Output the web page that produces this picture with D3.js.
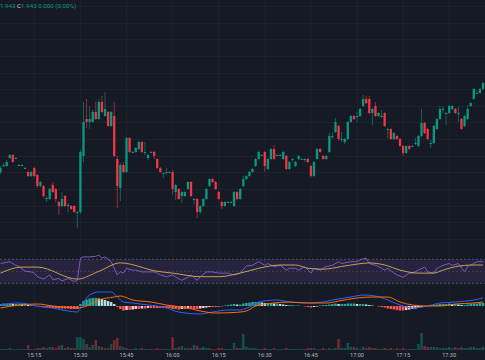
<!DOCTYPE html>
<html><head><meta charset="utf-8">
<script src="https://cdn.jsdelivr.net/npm/d3@7"></script>
<style>
html,body{margin:0;padding:0;background:#161a25;overflow:hidden}
svg{display:block}
</style></head><body>
<svg id="c" width="485" height="360"></svg>
<script>
// ---------- DATA ----------
const firstBar = "15:04";           // 1-minute candles
const viewStart = "15:03:50", viewEnd = "17:41:39";
const opens = [
1.854,1.861,1.860,1.868,1.871,1.868,1.861,1.861,1.858,1.854,
1.850,1.858,1.851,1.840,1.840,1.828,1.827,1.841,1.837,1.824,
1.820,1.830,1.820,1.820,1.820,1.814,1.814,1.870,1.907,1.904,
1.904,1.914,1.907,1.924,1.910,1.914,1.900,1.910,1.867,1.838,
1.861,1.854,1.888,1.874,1.874,1.877,1.884,1.874,1.868,1.874,
1.874,1.867,1.858,1.853,1.854,1.854,1.854,1.834,1.837,1.830,
1.830,1.837,1.844,1.827,1.827,1.814,1.820,1.827,1.840,1.847,
1.844,1.834,1.824,1.820,1.824,1.824,1.820,1.834,1.827,1.840,
1.847,1.850,1.854,1.860,1.867,1.871,1.874,1.857,1.867,1.877,
1.871,1.871,1.867,1.870,1.857,1.867,1.860,1.867,1.867,1.867,
1.867,1.860,1.850,1.867,1.877,1.870,1.867,1.874,1.890,1.894,
1.900,1.887,1.884,1.887,1.904,1.910,1.910,1.910,1.920,1.927,
1.927,1.913,1.920,1.910,1.910,1.913,1.897,1.897,1.887,1.890,
1.887,1.880,1.873,1.880,1.880,1.883,1.880,1.890,1.903,1.897,
1.883,1.883,1.897,1.907,1.917,1.913,1.913,1.917,1.917,1.913,
1.907,1.900,1.907,1.920,1.927,1.933,1.933,1.937];
const highs = [
1.860,1.863,1.866,1.872,1.872,1.869,1.862,1.862,1.859,1.855,
1.855,1.859,1.852,1.845,1.841,1.830,1.838,1.844,1.838,1.825,
1.834,1.831,1.823,1.821,1.821,1.815,1.876,1.924,1.927,1.920,
1.916,1.924,1.927,1.930,1.934,1.915,1.915,1.924,1.870,1.863,
1.864,1.889,1.889,1.875,1.879,1.885,1.885,1.884,1.872,1.875,
1.875,1.868,1.859,1.854,1.858,1.855,1.856,1.842,1.838,1.835,
1.835,1.845,1.845,1.828,1.828,1.821,1.828,1.838,1.848,1.848,
1.845,1.835,1.825,1.825,1.825,1.825,1.835,1.835,1.838,1.850,
1.851,1.855,1.858,1.868,1.875,1.872,1.875,1.868,1.878,1.881,
1.872,1.872,1.875,1.871,1.865,1.868,1.865,1.871,1.868,1.868,
1.868,1.861,1.865,1.878,1.878,1.871,1.871,1.893,1.894,1.908,
1.901,1.894,1.888,1.905,1.911,1.911,1.914,1.918,1.931,1.930,
1.930,1.918,1.924,1.914,1.916,1.914,1.898,1.898,1.894,1.891,
1.888,1.881,1.881,1.881,1.881,1.888,1.891,1.917,1.904,1.898,
1.886,1.901,1.908,1.920,1.920,1.914,1.921,1.921,1.918,1.919,
1.908,1.911,1.921,1.924,1.938,1.936,1.938,1.944];
const lows = [
1.852,1.859,1.859,1.867,1.863,1.867,1.860,1.860,1.857,1.849,
1.849,1.849,1.838,1.839,1.828,1.824,1.826,1.833,1.824,1.811,
1.819,1.819,1.814,1.816,1.813,1.798,1.812,1.864,1.898,1.897,
1.903,1.906,1.906,1.913,1.909,1.899,1.899,1.869,1.818,1.825,
1.853,1.853,1.873,1.873,1.873,1.876,1.873,1.871,1.866,1.873,
1.867,1.857,1.853,1.848,1.851,1.853,1.831,1.826,1.826,1.823,
1.829,1.836,1.829,1.821,1.808,1.812,1.819,1.826,1.839,1.843,
1.836,1.826,1.817,1.819,1.823,1.823,1.819,1.826,1.826,1.839,
1.846,1.849,1.853,1.859,1.866,1.870,1.854,1.856,1.866,1.866,
1.870,1.870,1.866,1.856,1.856,1.864,1.859,1.866,1.866,1.864,
1.863,1.848,1.849,1.866,1.873,1.866,1.866,1.873,1.887,1.893,
1.885,1.884,1.882,1.886,1.903,1.906,1.904,1.909,1.919,1.922,
1.912,1.901,1.909,1.909,1.908,1.899,1.888,1.886,1.886,1.886,
1.879,1.870,1.872,1.876,1.879,1.881,1.879,1.889,1.892,1.886,
1.878,1.882,1.896,1.906,1.913,1.901,1.912,1.916,1.912,1.904,
1.896,1.899,1.906,1.919,1.926,1.932,1.932,1.936];
const closes = [
1.858,1.861,1.864,1.871,1.864,1.868,1.861,1.861,1.858,1.850,
1.854,1.850,1.840,1.844,1.830,1.828,1.837,1.834,1.827,1.820,
1.827,1.820,1.821,1.817,1.814,1.814,1.874,1.904,1.904,1.907,
1.914,1.907,1.924,1.914,1.917,1.900,1.914,1.870,1.840,1.861,
1.854,1.888,1.874,1.874,1.878,1.884,1.874,1.874,1.871,1.874,
1.870,1.858,1.854,1.853,1.854,1.854,1.837,1.841,1.827,1.834,
1.834,1.844,1.830,1.827,1.814,1.820,1.827,1.837,1.847,1.844,
1.837,1.827,1.820,1.824,1.824,1.824,1.834,1.827,1.837,1.847,
1.850,1.854,1.857,1.867,1.874,1.871,1.860,1.867,1.877,1.867,
1.871,1.871,1.874,1.857,1.864,1.867,1.864,1.870,1.867,1.867,
1.864,1.850,1.864,1.877,1.874,1.867,1.870,1.890,1.890,1.904,
1.887,1.887,1.887,1.904,1.910,1.907,1.910,1.917,1.927,1.923,
1.913,1.917,1.910,1.913,1.910,1.900,1.897,1.887,1.893,1.887,
1.880,1.873,1.880,1.877,1.880,1.883,1.890,1.903,1.893,1.887,
1.883,1.900,1.907,1.917,1.917,1.913,1.920,1.920,1.913,1.913,
1.897,1.910,1.917,1.923,1.937,1.933,1.937,1.943];
const volumes = [
1,1,1,2,1,1,1,1,1,5, 1,1,2,2,3,2,3,3,2,4, 5,2,3,2,2,13,13,11,6,3,
5,10,4,3,2,2,6,10,12,4, 3,2,1,1,2,1,2,1,1,1, 1,2,1,1,1,1,13,2,3,4,
2,2,2,5,4,2,3,2,2,1, 1,2,2,1,1,1,7,2,2,16, 3,2,2,2,1,1,2,1,1,2,
1,1,1,2,1,1,1,1,1,1, 2,2,2,1,1,2,1,2,1,2, 11,2,2,7,3,3,2,1,3,2,
3,2,2,1,1,2,1,2,1,2, 1,2,1,1,1,1,6,17,4,3, 3,3,3,2,2,2,3,2,3,2,
3,2,2,3,3,2,2,3];
// MACD histogram (x1e-3)
const macdHist = [
2,2.5,2.5,2.5,2,2,2,1.5,1.5,1, 1,0.5,-0.5,-1,-1.5,-1.5,-1.5,-2,-2,-2.5,
-2.5,-2.5,-2.5,-3,-3,-3,2,5,6.5,7.5, 8,8,7.5,7,6,5,4,2,-1,-3,
-4.5,-4,-4,-3.5,-3,-3,-2.5,-2.5,-2,-2, -2,-2,-2,-2,-2,-2,-3,-3,-3.5,-3,
-3,-2.5,-2.5,-3,-3,-2.5,-2,-1.5,-1,-1, -1,-0.5,-0.5,0.5,1,1.5,2,1.5,1.5,2.5,
3,3.5,4,4,4,3.5,3,3,3,2.5, 2.5,2,1.5,1,1,0.5,0.5,0.5,0,-0.5,
-1,-1.5,-1,-0.5,0.5,1,1,1.5,2,2.5, 2,2,2,2.5,2.5,2.5,2,2,2,1.5,
1,0.5,0,-0.5,-1,-1.5,-2.5,-3,-3.5,-4, -4.5,-4.5,-4,-3.5,-3,-2.5,-2,-1,-0.5,0,
0.5,1,1.5,2,2,2,2.5,2,2,1.5, 1,1,1.5,2,2.5,2.5,3,3];
// MACD & signal line readings (bar index, value x1e-3)
const macdBar = [0,6,12,17,22,25,27,29,32,36,38,40,43,48,51,54,58,65,69,74,78,81,84,90,94,100,105,108,114,118,122,126,130,134,139,143,148,154,157];
const macdVal = [1,3,0,-2,-5,-6,4,11,14,14,9,4,3,1,0,-2,-6,-8,-6,-4,-4,-1,4,6,4,3,4,6,9,11,10,6,1,-2,0,3,4,6,8];
const signalBar = [0,6,12,17,25,28,32,37,39,43,49,54,61,65,70,76,80,83,89,94,100,106,110,116,121,126,130,134,139,143,148,154,157];
const signalVal = [-2,1,2,0,-2,0,6,9,10,6,4,1,-2,-5,-7,-6.5,-5,0,3,4,3,3,5,8,9,9,4,1,0,0,2,3,4];
// RSI readings (bar index, value)
const rsiBar = [0,3,5,6,8,10,11,12,14,16,17,19,20,22,24,25,26,27,29,31,32,33,34,36,37,38,39,40,41,43,44,46,48,50,51,52,54,56,57,59,61,62,64,65,67,69,71,74,76,78,80,82,84,86,87,89,90,91,93,94,96,97,99,101,102,104,106,108,110,111,114,116,117,119,120,122,123,125,126,128,129,131,133,134,136,138,139,141,142,144,146,147,149,151,152,154,155,157];
const rsiVal = [63,66,60,58,50,49,47,41,37,44,36,38,34,38,33,35,72,74,74,75,77,72,74,66,55,44,49,47,55,52,52,49,49,49,47,44,41,44,40,35,40,44,35,41,49,49,47,47,44,47,59,60,66,60,63,58,59,60,52,55,55,52,58,47,55,52,58,60,66,63,66,66,69,72,63,60,58,52,55,47,44,40,47,47,52,57,49,47,55,60,63,60,63,49,58,63,66,66];
const rsiMaBar = [0,7,12,25,32,39,51,56,65,71,78,84,91,96,100,105,111,116,120,125,130,136,141,144,148,154,157];
const rsiMaVal = [47,57,57,37,50,64,50,47,41,41,47,55,60.5,60.5,55,53.5,58,62,64,60.5,52,47,47,52,57.7,60.5,60.5];
const rsiLevels = [70, 50, 30];
const timeTicks = ["15:15","15:30","15:45","16:00","16:15","16:30","16:45","17:00","17:15","17:30"];
const gridPrices = [2.020,2.003,1.9865,1.970,1.953,1.937,1.920,1.9035,1.887,1.870,1.854,1.837,1.8205,1.804,1.787];
const legendParts = [["1.943 ","#089981"],["C","#d1d4dc"],["1.943 0.000 (0.00%)","#089981"]];

// ---------- LAYOUT ----------
const W = 485, H = 360;
const UP = "#089981", DN = "#f23645";
const svg = d3.select("#c");
svg.append("rect").attr("width", W).attr("height", H).attr("fill", "#161a25");

const pT = d3.timeParse("%H:%M"), pS = d3.timeParse("%H:%M:%S");
const t0 = pT(firstBar);
const times = opens.map((d, i) => d3.timeMinute.offset(t0, i));
const x = d3.scaleTime().domain([pS(viewStart), pS(viewEnd)]).range([0, W]);

const yP = d3.scaleLinear().domain([1.780, 2.026]).range([246, 0]);
const yR = d3.scaleLinear().domain([0, 100]).range([301.3, 241.3]);
const yM = d3.scaleLinear().domain([-14, 15]).range([320, 291]);
const yV = d3.scaleLinear().domain([0, 29]).range([350, 321]);

// grid
const grid = svg.append("g").attr("stroke", "#1e222d").attr("stroke-width", 1);
grid.selectAll("line.h").data(gridPrices).join("line").attr("class", "h")
  .attr("x1", 0).attr("x2", W).attr("y1", d => Math.round(yP(d)) + 0.5).attr("y2", d => Math.round(yP(d)) + 0.5);
grid.selectAll("line.v").data(timeTicks).join("line").attr("class", "v")
  .attr("x1", d => x(pT(d))).attr("x2", d => x(pT(d))).attr("y1", 0).attr("y2", 350);

// ---------- CANDLES ----------
const bars = opens.map((o, i) => ({t: times[i], o, h: highs[i], l: lows[i], c: closes[i], v: volumes[i], hist: macdHist[i]}));
const cg = svg.append("g");
const bw = 2.3;
cg.selectAll("line").data(bars).join("line")
  .attr("x1", d => x(d.t)).attr("x2", d => x(d.t))
  .attr("y1", d => yP(d.h)).attr("y2", d => yP(d.l))
  .attr("stroke", d => d.c >= d.o ? UP : DN).attr("stroke-width", 0.9).attr("opacity", 0.65);
cg.selectAll("rect").data(bars).join("rect")
  .attr("x", d => x(d.t) - bw / 2).attr("width", bw)
  .attr("y", d => yP(Math.max(d.o, d.c)))
  .attr("height", d => Math.max(1, Math.abs(yP(d.o) - yP(d.c))))
  .attr("fill", d => d.c >= d.o ? UP : DN);

// ---------- RSI ----------
const rg = svg.append("g");
rg.append("rect").attr("x", 0).attr("width", W).attr("y", yR(70)).attr("height", yR(30) - yR(70))
  .attr("fill", "#7e57c2").attr("opacity", 0.16);
rg.selectAll("line").data(rsiLevels).join("line")
  .attr("x1", 0).attr("x2", W).attr("y1", d => yR(d)).attr("y2", d => yR(d))
  .attr("stroke", "#787b86").attr("stroke-width", 0.8).attr("stroke-dasharray", "2,2")
  .attr("opacity", d => d === 50 ? 0.4 : 0.7);
const rsiPts = rsiBar.map((b, k) => [x(times[b]), yR(rsiVal[k])]);
rg.append("path").attr("d", d3.line()(rsiPts)).attr("fill", "none").attr("stroke", "#7e57c2").attr("stroke-width", 1);
const maPts = rsiMaBar.map((b, k) => [x(times[b]), yR(rsiMaVal[k])]);
rg.append("path").attr("d", d3.line().curve(d3.curveMonotoneX)(maPts)).attr("fill", "none").attr("stroke", "#c9a24c").attr("stroke-width", 1);

// ---------- MACD ----------
const mg = svg.append("g");
mg.selectAll("rect").data(bars).join("rect")
  .attr("x", d => x(d.t) - 1.25).attr("width", 2.5)
  .attr("y", d => yM(Math.max(0, d.hist)))
  .attr("height", d => Math.abs(yM(d.hist) - yM(0)))
  .attr("fill", (d, i) => {
    const prev = i > 0 ? bars[i - 1].hist : d.hist;
    if (d.hist >= 0) return d.hist >= prev ? "#26a69a" : "#b2dfdb";
    return d.hist <= prev ? "#ff5252" : "#ffcdd2";
  });
const mPts = macdBar.map((b, k) => [x(times[b]), yM(macdVal[k])]);
const sPts = signalBar.map((b, k) => [x(times[b]), yM(signalVal[k])]);
mg.append("path").attr("d", d3.line().curve(d3.curveMonotoneX)(mPts)).attr("fill", "none").attr("stroke", "#2962ff").attr("stroke-width", 1);
mg.append("path").attr("d", d3.line().curve(d3.curveMonotoneX)(sPts)).attr("fill", "none").attr("stroke", "#ff6d00").attr("stroke-width", 1);

// ---------- VOLUME ----------
svg.append("g").selectAll("rect").data(bars).join("rect")
  .attr("x", d => x(d.t) - 1.25).attr("width", 2.5)
  .attr("y", d => yV(d.v)).attr("height", d => yV(0) - yV(d.v))
  .attr("fill", d => d.c >= d.o ? UP : DN).attr("opacity", 0.45);

// ---------- TIME AXIS ----------
svg.append("g").selectAll("text").data(timeTicks).join("text")
  .attr("x", d => x(pT(d))).attr("y", 356.5).attr("text-anchor", "middle")
  .attr("font-family", "Roboto, sans-serif").attr("font-size", 5.6).attr("fill", "#b2b5be")
  .text(d => d);

// ---------- LEGEND ----------
const lg = svg.append("text").attr("x", 0).attr("y", 7.5)
  .attr("font-family", "Roboto, sans-serif").attr("font-size", 6.2);
lg.selectAll("tspan").data(legendParts).join("tspan").attr("fill", d => d[1]).text(d => d[0]);
</script>
</body></html>
